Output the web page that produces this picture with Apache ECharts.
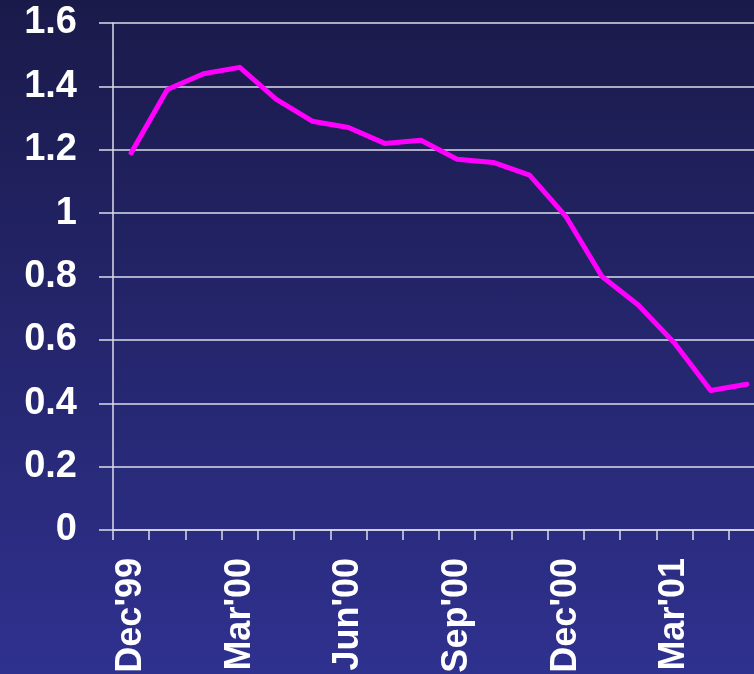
<!DOCTYPE html>
<html>
<head>
<meta charset="utf-8">
<script src="https://cdn.jsdelivr.net/npm/echarts@6/dist/echarts.min.js"></script>
<style>
  html, body { margin: 0; padding: 0; }
  #chart { width: 754px; height: 674px; background: linear-gradient(to bottom, #1a1a4a 0%, #2f318f 100%); }
</style>
</head>
<body>
<div id="chart"></div>
<script>
var months = ["Dec'99", "Jan'00", "Feb'00", "Mar'00", "Apr'00", "May'00", "Jun'00", "Jul'00", "Aug'00",
  "Sep'00", "Oct'00", "Nov'00", "Dec'00", "Jan'01", "Feb'01", "Mar'01", "Apr'01", "May'01"];
var values = [1.19, 1.39, 1.44, 1.46, 1.36, 1.29, 1.27, 1.22, 1.23,
  1.17, 1.16, 1.12, 0.99, 0.80, 0.71, 0.59, 0.44, 0.46];

var chart = echarts.init(document.getElementById("chart"), null, { renderer: "canvas" });

var font = "Liberation Sans, Arial, sans-serif";
var axisColor = "#dcdcea";

chart.setOption({
  backgroundColor: "transparent",
  animation: false,
  // plot runs past the right edge of the picture, as in the original slide
  grid: { left: 113, width: 652, top: 23, bottom: 144, containLabel: false, outerBoundsMode: "none" },
  xAxis: {
    type: "category",
    data: months,
    boundaryGap: true,
    axisLine: { show: true, lineStyle: { color: axisColor, width: 1.5 } },
    axisTick: { show: true, interval: 0, length: 10, lineStyle: { color: axisColor, width: 1.5 } },
    axisLabel: { interval: 2, rotate: 90, margin: 28, color: "#fff", fontFamily: font, fontWeight: "bold", fontSize: 36 },
    splitLine: { show: false }
  },
  yAxis: {
    type: "value",
    min: 0,
    max: 1.6,
    interval: 0.2,
    axisLine: { show: true, lineStyle: { color: axisColor, width: 1.5 } },
    axisTick: { show: true, length: 14, lineStyle: { color: axisColor, width: 1.5 } },
    axisLabel: { margin: 36, color: "#fff", fontFamily: font, fontWeight: "bold", fontSize: 38 },
    splitLine: { show: true, lineStyle: { color: axisColor, width: 1.5 } }
  },
  series: [{
    type: "line",
    data: values,
    showSymbol: false,
    symbol: "none",
    lineStyle: { color: "#ff00ff", width: 5, cap: "round", join: "round" }
  }]
});
</script>
</body>
</html>
